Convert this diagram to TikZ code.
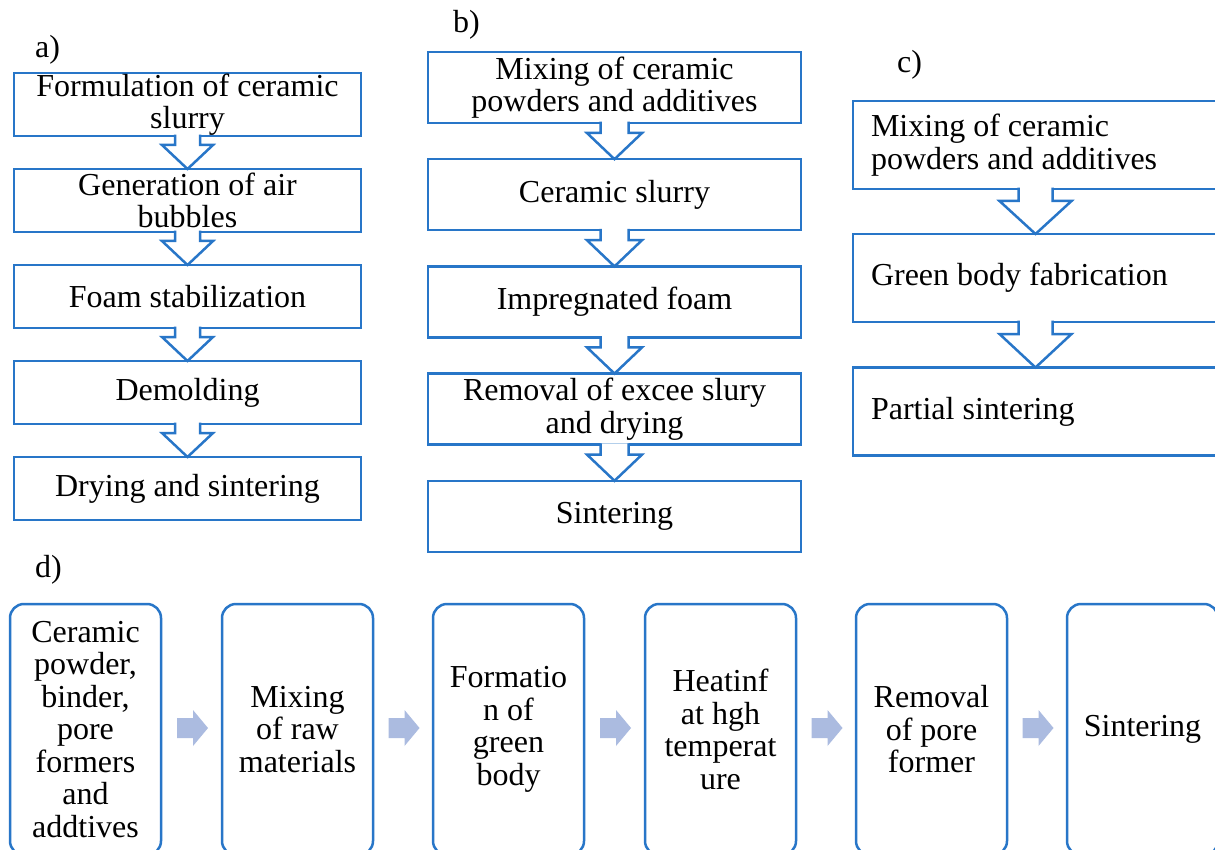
\documentclass[tikz,border=0pt]{standalone}
\usepackage{fontspec}
\setmainfont{Liberation Serif}
\usetikzlibrary{calc}
\definecolor{boxblue}{RGB}{40,118,200}
\definecolor{arrowfill}{RGB}{171,187,224}
\newcommand{\hollowdown}[5]{%
  \filldraw[fill=white, draw=boxblue, line width=2.5pt, line join=miter]
    ($(#1.south)+(-#3,-1.3)$) -- ($(#1.south)+(-#3,#5)$) -- ($(#1.south)+(-#4,#5)$)
    -- (#2.north) -- ($(#1.south)+(#4,#5)$) -- ($(#1.south)+(#3,#5)$) -- ($(#1.south)+(#3,-1.3)$);
}
\newcommand{\blockright}[2]{%
  \coordinate (m#1#2) at ($(#1.east)!0.5!(#2.west)+(1,-1.5)$);
  \fill[arrowfill] ($(m#1#2)+(-15.5,-10)$) -- ($(m#1#2)+(0.5,-10)$) -- ($(m#1#2)+(0.5,-18)$)
    -- ($(m#1#2)+(15.5,0)$) -- ($(m#1#2)+(0.5,18)$) -- ($(m#1#2)+(0.5,10)$)
    -- ($(m#1#2)+(-15.5,10)$) -- cycle;
}
\begin{document}
\begin{tikzpicture}[x=1pt,y=-1pt,
  every node/.style={font=\fontsize{32}{32.5}\selectfont},
  sqbox/.style={draw=boxblue, line width=2.5pt, inner sep=0pt, outer sep=0pt, align=center, fill=white},
  abox/.style={sqbox, minimum width=347pt, minimum height=63pt},
  bbox/.style={sqbox, minimum width=373pt, minimum height=71pt},
  cbox/.style={sqbox, align=flush left, text width=329pt, inner xsep=18pt, minimum width=365pt, minimum height=88pt},
  dbox/.style={sqbox, rounded corners=14pt, minimum width=151pt, minimum height=251pt},
  lbl/.style={anchor=base west, inner sep=0pt}]
\useasboundingbox (0,0) rectangle (1215,850);
\fill[white] (0,0) rectangle (1215,850);
\begin{scope}
\clip (0,0) rectangle (1215,850);
% panel a
\node[lbl] (la) at (35,58) {a)};
\node[abox] (a1) at (187.5,104.5) {Formulation of ceramic\\slurry};
\node[abox] (a2) at (187.5,200.5) {Generation of air\\bubbles};
\node[abox] (a3) at (187.5,296.5) {Foam stabilization};
\node[abox] (a4) at (187.5,392.5) {Demolding};
\node[abox] (a5) at (187.5,488.5) {Drying and sintering};
\hollowdown{a1}{a2}{12.5}{25.5}{9}
\hollowdown{a2}{a3}{12.5}{25.5}{9}
\hollowdown{a3}{a4}{12.5}{25.5}{9}
\hollowdown{a4}{a5}{12.5}{25.5}{9}
% panel b
\node[lbl] (lb) at (453,33) {b)};
\node[bbox] (b1) at (614.5,87.5) {Mixing of ceramic\\powders and additives};
\node[bbox] (b2) at (614.5,194.7) {Ceramic slurry};
\node[bbox] (b3) at (614.5,301.9) {Impregnated foam};
\node[bbox] (b4) at (614.5,409.1) {Removal of excee slury\\and drying};
\node[bbox] (b5) at (614.5,516.3) {Sintering};
\hollowdown{b1}{b2}{14}{27.5}{10}
\hollowdown{b2}{b3}{14}{27.5}{10}
\hollowdown{b3}{b4}{14}{27.5}{10}
\hollowdown{b4}{b5}{14}{27.5}{10}
% panel c
\node[lbl] (lc) at (897,73) {c)};
\node[cbox] (c1) at (1035.5,145) {Mixing of ceramic\\powders and additives};
\node[cbox] (c2) at (1035.5,278) {Green body fabrication};
\node[cbox] (c3) at (1035.5,411.5) {Partial sintering};
\hollowdown{c1}{c2}{17}{36}{12}
\hollowdown{c2}{c3}{17}{36}{12}
% panel d
\node[lbl] (ld) at (35,577) {d)};
\node[dbox] (d1) at (85.5,729.5) {Ceramic\\powder,\\binder,\\pore\\formers\\and\\addtives};
\node[dbox] (d2) at (297.5,729.5) {Mixing\\of raw\\materials};
\node[dbox] (d3) at (508.5,729.5) {Formatio\\n of\\green\\body};
\node[dbox] (d4) at (720.5,729.5) {Heatinf\\at hgh\\temperat\\ure};
\node[dbox] (d5) at (931.5,729.5) {Removal\\of pore\\former};
\node[dbox] (d6) at (1142.5,729.5) {Sintering};
\blockright{d1}{d2}
\blockright{d2}{d3}
\blockright{d3}{d4}
\blockright{d4}{d5}
\blockright{d5}{d6}
\end{scope}
\end{tikzpicture}
\end{document}
